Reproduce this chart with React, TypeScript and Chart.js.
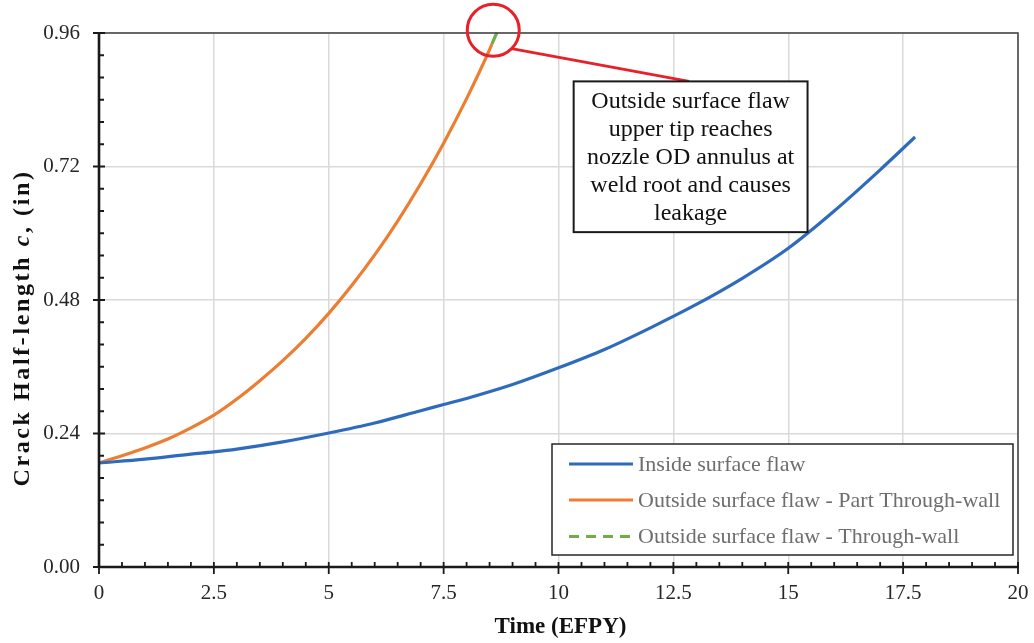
import React, { useEffect, useRef } from 'react';
import { Chart, registerables } from 'chart.js';

Chart.register(...registerables);

// ---------- data ----------
const insideTime = [0, 1, 2, 2.5, 3, 4, 5, 6, 7, 7.5, 8, 9, 10, 11, 12, 13, 14, 15, 16, 17, 17.76];
const insideC = [0.187, 0.194, 0.203, 0.207, 0.212, 0.225, 0.241, 0.259, 0.281, 0.292, 0.303, 0.328, 0.358, 0.391, 0.43, 0.472, 0.519, 0.573, 0.64, 0.714, 0.773];

const partTime = [0, 0.5, 1, 1.5, 2, 2.5, 3, 3.5, 4, 4.5, 5, 5.5, 6, 6.5, 7, 7.5, 8, 8.5, 8.55];
const partC = [0.187, 0.2, 0.214, 0.23, 0.25, 0.273, 0.302, 0.335, 0.371, 0.411, 0.456, 0.506, 0.561, 0.622, 0.689, 0.762, 0.842, 0.93, 0.94];

const throughTime = [8.55, 8.66];
const throughC = [0.94, 0.961];

const seriesLabels = [
  'Inside surface flaw',
  'Outside surface flaw - Part Through-wall',
  'Outside surface flaw - Through-wall',
];
const seriesColors = ['#2f6bbd', '#ed7d31', '#70ad47'];

const xTickValues = [0, 2.5, 5, 7.5, 10, 12.5, 15, 17.5, 20];
const yTickValues = [0, 0.24, 0.48, 0.72, 0.96];
const xMinorPerMajor = 5;
const yMinorPerMajor = 6;

const xTitle = 'Time (EFPY)';
const yTitleParts = ['Crack Half-length ', 'c', ', (in)'];

const noteLines = ['Outside surface flaw', 'upper tip reaches', 'nozzle OD annulus at', 'weld root and causes', 'leakage'];
// annotation anchors in data units
const noteCircle = { x: 8.58, y: 0.965 };
const noteLineEnd = { x: 12.84, y: 0.873 };
const noteBox = { x1: 10.33, y1: 0.873, x2: 15.42, y2: 0.602 };

const SERIF = "'Liberation Serif', 'Times New Roman', Times, serif";

const decorPlugin = {
  id: 'decor',
  afterDatasetsDraw(chart: any) {
    const { ctx, chartArea: a, scales } = chart;
    const xs = scales.x;
    const ys = scales.y;
    ctx.save();

    // top & right frame
    ctx.strokeStyle = '#404040';
    ctx.lineWidth = 1.5;
    ctx.beginPath();
    ctx.moveTo(a.left, a.top);
    ctx.lineTo(a.right, a.top);
    ctx.lineTo(a.right, a.bottom);
    ctx.stroke();

    // axes
    ctx.strokeStyle = '#1a1a1a';
    ctx.lineWidth = 2.6;
    ctx.beginPath();
    ctx.moveTo(a.left, a.top - 1);
    ctx.lineTo(a.left, a.bottom);
    ctx.lineTo(a.right + 1, a.bottom);
    ctx.stroke();

    // ticks
    ctx.lineWidth = 1.8;
    ctx.beginPath();
    for (let i = 0; i < yTickValues.length; i++) {
      const y = ys.getPixelForValue(yTickValues[i]);
      ctx.moveTo(a.left - 6, y);
      ctx.lineTo(a.left + 6, y);
      if (i < yTickValues.length - 1) {
        const step = (yTickValues[i + 1] - yTickValues[i]) / yMinorPerMajor;
        for (let k = 1; k < yMinorPerMajor; k++) {
          const ym = ys.getPixelForValue(yTickValues[i] + k * step);
          ctx.moveTo(a.left, ym);
          ctx.lineTo(a.left + 5, ym);
        }
      }
    }
    for (let i = 0; i < xTickValues.length; i++) {
      const x = xs.getPixelForValue(xTickValues[i]);
      ctx.moveTo(x, a.bottom - 5);
      ctx.lineTo(x, a.bottom + 7);
      if (i < xTickValues.length - 1) {
        const step = (xTickValues[i + 1] - xTickValues[i]) / xMinorPerMajor;
        for (let k = 1; k < xMinorPerMajor; k++) {
          const xm = xs.getPixelForValue(xTickValues[i] + k * step);
          ctx.moveTo(xm, a.bottom);
          ctx.lineTo(xm, a.bottom - 5);
        }
      }
    }
    ctx.stroke();

    // axis titles
    ctx.fillStyle = '#111';
    ctx.textBaseline = 'middle';
    ctx.textAlign = 'center';
    ctx.font = `bold 23px ${SERIF}`;
    ctx.fillText(xTitle, (a.left + a.right) / 2 + 2, 627);

    ctx.save();
    ctx.translate(23, 328);
    ctx.rotate(-Math.PI / 2);
    const fonts = [`bold 24px ${SERIF}`, `italic bold 24px ${SERIF}`, `bold 24px ${SERIF}`];
    const spacing = 2.6;
    try {
      (ctx as any).letterSpacing = `${spacing}px`;
    } catch (e) {
      /* ignore */
    }
    let total = 0;
    const widths: number[] = [];
    yTitleParts.forEach((p, i) => {
      ctx.font = fonts[i];
      const w = ctx.measureText(p).width;
      widths.push(w);
      total += w;
    });
    let cx = -total / 2;
    ctx.textAlign = 'left';
    yTitleParts.forEach((p, i) => {
      ctx.font = fonts[i];
      ctx.fillText(p, cx, 0);
      cx += widths[i];
    });
    try {
      (ctx as any).letterSpacing = '0px';
    } catch (e) {
      /* ignore */
    }
    ctx.restore();

    // legend
    const lw = 461;
    const lh = 111;
    const lr = a.right - 5;
    const lb = a.bottom - 12;
    const ll = lr - lw;
    const lt = lb - lh;
    ctx.fillStyle = '#ffffff';
    ctx.fillRect(ll, lt, lw, lh);
    ctx.strokeStyle = '#262626';
    ctx.lineWidth = 1.5;
    ctx.strokeRect(ll, lt, lw, lh);
    const rows = [20, 56, 92.5];
    ctx.font = `22px ${SERIF}`;
    ctx.textAlign = 'left';
    ctx.textBaseline = 'middle';
    seriesLabels.forEach((lab, i) => {
      const y = lt + rows[i];
      ctx.strokeStyle = seriesColors[i];
      ctx.lineWidth = 3;
      ctx.setLineDash(i === 2 ? [10, 7] : []);
      ctx.beginPath();
      ctx.moveTo(ll + 17, y);
      ctx.lineTo(ll + 81, y);
      ctx.stroke();
      ctx.setLineDash([]);
      ctx.fillStyle = '#6e6e6e';
      ctx.fillText(lab, ll + 86, y + 1);
    });

    // annotation: circle, leader, box
    const ccx = xs.getPixelForValue(noteCircle.x);
    const ccy = ys.getPixelForValue(noteCircle.y);
    const r = 26;
    ctx.strokeStyle = '#e8202a';
    ctx.lineWidth = 3;
    ctx.beginPath();
    ctx.arc(ccx, ccy, r, 0, Math.PI * 2);
    ctx.stroke();
    ctx.beginPath();
    ctx.moveTo(ccx + r * Math.cos(Math.PI / 4), ccy + r * Math.sin(Math.PI / 4));
    ctx.lineTo(xs.getPixelForValue(noteLineEnd.x), ys.getPixelForValue(noteLineEnd.y));
    ctx.stroke();

    const bx1 = xs.getPixelForValue(noteBox.x1);
    const by1 = ys.getPixelForValue(noteBox.y1);
    const bx2 = xs.getPixelForValue(noteBox.x2);
    const by2 = ys.getPixelForValue(noteBox.y2);
    ctx.fillStyle = '#ffffff';
    ctx.fillRect(bx1, by1, bx2 - bx1, by2 - by1);
    ctx.strokeStyle = '#1a1a1a';
    ctx.lineWidth = 2;
    ctx.strokeRect(bx1, by1, bx2 - bx1, by2 - by1);
    ctx.fillStyle = '#111';
    ctx.font = `24px ${SERIF}`;
    ctx.textAlign = 'center';
    ctx.textBaseline = 'middle';
    noteLines.forEach((t, i) => {
      ctx.fillText(t, (bx1 + bx2) / 2, by1 + 20 + i * 28.2);
    });

    ctx.restore();
  },
};

function toPoints(xs: number[], ys: number[]) {
  return xs.map((x, i) => ({ x, y: ys[i] }));
}

export default function App() {
  const canvasRef = useRef<HTMLCanvasElement | null>(null);

  useEffect(() => {
    if (!canvasRef.current) return;
    const tickFont = { family: SERIF, size: 21 };
    const chart = new Chart(canvasRef.current, {
      type: 'scatter',
      data: {
        datasets: [
          {
            label: seriesLabels[0],
            data: toPoints(insideTime, insideC),
            showLine: true,
            borderColor: seriesColors[0],
            backgroundColor: seriesColors[0],
            borderWidth: 3.2,
            pointRadius: 0,
            cubicInterpolationMode: 'monotone',
            clip: false,
          },
          {
            label: seriesLabels[1],
            data: toPoints(partTime, partC),
            showLine: true,
            borderColor: seriesColors[1],
            backgroundColor: seriesColors[1],
            borderWidth: 3.2,
            pointRadius: 0,
            cubicInterpolationMode: 'monotone',
            clip: false,
          },
          {
            label: seriesLabels[2],
            data: toPoints(throughTime, throughC),
            showLine: true,
            borderColor: seriesColors[2],
            backgroundColor: seriesColors[2],
            borderWidth: 3.2,
            pointRadius: 0,
            clip: false,
          },
        ],
      } as any,
      options: {
        animation: false,
        responsive: true,
        maintainAspectRatio: false,
        layout: { padding: { top: 33, right: 16, left: 0, bottom: 0 } },
        plugins: { legend: { display: false }, tooltip: { enabled: false } },
        scales: {
          x: {
            type: 'linear',
            min: 0,
            max: 20,
            afterBuildTicks: (s: any) => {
              s.ticks = xTickValues.map((v) => ({ value: v }));
            },
            afterFit: (s: any) => {
              s.height = 76;
              s.paddingLeft = 0;
              s.paddingRight = 0;
            },
            grid: { color: '#d9d9d9', lineWidth: 1.5, drawTicks: false },
            border: { display: false },
            ticks: {
              padding: 14,
              font: tickFont,
              color: '#262626',
              maxRotation: 0,
              autoSkip: false,
              callback: (v: any) => String(v),
            },
          },
          y: {
            type: 'linear',
            min: 0,
            max: 0.96,
            afterBuildTicks: (s: any) => {
              s.ticks = yTickValues.map((v) => ({ value: v }));
            },
            afterFit: (s: any) => {
              s.width = 99;
              s.paddingTop = 0;
              s.paddingBottom = 0;
            },
            grid: { color: '#d9d9d9', lineWidth: 1.5, drawTicks: false },
            border: { display: false },
            ticks: {
              padding: 19,
              font: tickFont,
              color: '#262626',
              autoSkip: false,
              callback: (v: any) => Number(v).toFixed(2),
            },
          },
        },
      } as any,
      plugins: [decorPlugin],
    });
    return () => chart.destroy();
  }, []);

  return (
    <div style={{ position: 'absolute', left: 0, top: 0, width: 1034, height: 643, background: '#fff' }}>
      <canvas ref={canvasRef} />
    </div>
  );
}
